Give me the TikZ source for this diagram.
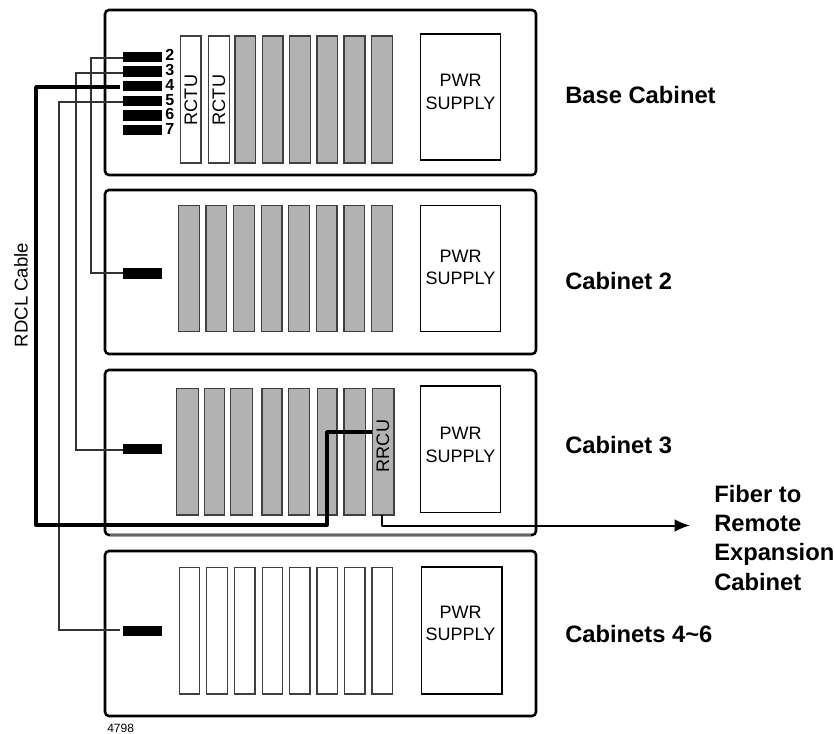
\documentclass[tikz,border=0pt]{standalone}
\usepackage{fontspec}
\setmainfont{Liberation Sans}
\usetikzlibrary{arrows.meta}
\newcommand\bx[6]{%
  \pgfmathsetmacro\cxv{(#3+#4)/2}\pgfmathsetmacro\cyv{(#5+#6)/2}%
  \pgfmathsetmacro\wv{(#4-#3)*0.75}\pgfmathsetmacro\hv{(#6-#5)*0.75}%
  \node[#1,minimum width=\wv pt,minimum height=\hv pt] (#2) at (\cxv,\cyv) {};}
\tikzset{
  x=0.75pt,y=-0.75pt,
  boxbase/.style={rectangle,inner sep=0pt,outer sep=0pt},
  cabinet/.style={boxbase,draw=black,line width=1.9pt,rounded corners=3pt},
  graycard/.style={boxbase,draw=black!75,fill=black!30,line width=1.1pt},
  whitecard/.style={boxbase,draw=black!75,fill=white,line width=1.1pt},
  pwr/.style={boxbase,draw=black,fill=white,line width=0.8pt},
  bar/.style={boxbase,fill=black},
  thinline/.style={draw=black!80,line width=0.9pt},
  thickline/.style={draw=black,line width=2.9pt,line join=round},
  fiber/.style={draw=black,line width=1.5pt,line join=round},
  pwrtext/.style={align=center,font=\fontsize{13.5}{16.8}\selectfont,inner sep=0pt},
  lbl/.style={anchor=base west,inner sep=0pt,font=\fontsize{17.8}{21.75}\selectfont\bfseries},
  num/.style={anchor=base west,inner sep=0pt,font=\fontsize{12}{12}\selectfont\bfseries},
  cardtext/.style={rotate=90,inner sep=0pt,font=\fontsize{13.6}{16}\selectfont},
}
\begin{document}
\begin{tikzpicture}
\useasboundingbox (0,0) rectangle (835,733);
% cabinets
\bx{cabinet}{cabA}{105}{536}{10}{175}
\bx{cabinet}{cabB}{105}{536}{190}{354}
\bx{cabinet}{cabC}{105}{536}{370}{535}
\bx{cabinet}{cabD}{105}{536}{551}{716}
\coordinate (cl) at (110,535);
\coordinate (cr) at (531,535);
\draw[white,line width=2.2pt] (cl) -- (cr);
\draw[black!60,line width=1pt] (cl) -- (cr);
% power supplies
\foreach \n/\a/\b/\c/\d/\ty in {A/420.7/500.7/34/160/92,B/420.7/500.7/205.7/331.7/267.5,C/420.7/500.7/386/512.3/445,D/421.7/502/567/694/623.5}{
  \bx{pwr}{pwr\n}{\a}{\b}{\c}{\d}
  \node[pwrtext] (pwrt\n) at (460.5,\ty) {PWR\\SUPPLY};
}
% base cabinet cards
\bx{whitecard}{a1}{180.3}{201}{36}{163}
\bx{whitecard}{a2}{208.7}{229.7}{36}{163}
\foreach \i/\a/\b in {3/235/255.7,4/262.3/283,5/289.7/310.3,6/317/337.7,7/344/365,8/371.7/392.3}{
  \bx{graycard}{a\i}{\a}{\b}{36}{163}
}
\node[cardtext] (ta1) at (191,100) {RCTU};
\node[cardtext] (ta2) at (219,100) {RCTU};
% cabinet 2 cards
\foreach \i/\a/\b in {1/178.7/199.3,2/206/226.7,3/233.7/254.3,4/261.3/282,5/288.7/309.7,6/316.3/337,7/344/364.7,8/371.7/392.3}{
  \bx{graycard}{b\i}{\a}{\b}{205.7}{331.7}
}
% cabinet 3 cards
\foreach \i/\a/\b in {1/176.7/198.3,2/204.3/224.3,3/230.7/252.7,4/262/282,5/288.7/309.3,6/317.3/337,7/344/365.7,8/372.3/394}{
  \bx{graycard}{c\i}{\a}{\b}{388.3}{515}
}
\node[cardtext] (tc8) at (383,446) {RRCU};
% cabinet 4 cards
\foreach \i/\a/\b in {1/179.7/199.7,2/206.7/227.3,3/234.3/255,4/262.3/282.7,5/289.7/310,6/317/337.7,7/344.7/365,8/372/392.7}{
  \bx{whitecard}{d\i}{\a}{\b}{567.3}{694}
}
% connector bars
\bx{bar}{p2}{122.7}{162.3}{51.7}{62}
\bx{bar}{p3}{122.7}{162.3}{66}{76.7}
\bx{bar}{p4}{122.7}{162.3}{81}{91.3}
\bx{bar}{p5}{122.7}{162.3}{96}{106}
\bx{bar}{p6}{122.7}{162.3}{110.3}{120.7}
\bx{bar}{p7}{122.7}{162.3}{125}{135.3}
\bx{bar}{qB}{122.7}{162.3}{268.3}{279}
\bx{bar}{qC}{122.7}{162.3}{444.3}{453.7}
\bx{bar}{qD}{122.7}{162.3}{625.7}{635.7}
\foreach \n/\y in {2/60,3/75,4/90,5/105,6/119,7/134}{
  \node[num] (n\n) at (165,\y) {\n};
}
% cables
\coordinate (t4) at (120,87);
\coordinate (e5) at (120,630);
\coordinate (f0) at (382,515);
\draw[thinline] (p2.west |- 0,58) -- (91,58) -- (91,273) -- (qB.west |- 0,273);
\draw[thinline] (p3.west |- 0,73) -- (76,73) -- (76,450) -- (qC.west |- 0,450);
\draw[thinline] (p5.west |- 0,102) -- (59,102) -- (59,630) -- (e5);
\draw[thickline] (t4) -- (36,87) -- (36,525) -- (327,525) -- (327,432) -- (c8.west |- 0,432);
\draw[fiber,-{Latex[length=11.5pt,width=9.5pt]}] (f0) -- (382,525.5) -- (690,525.5);
% labels
\node[lbl] (lA) at (565,103) {Base Cabinet};
\node[lbl] (lB) at (565,289) {Cabinet 2};
\node[lbl] (lC) at (565,453) {Cabinet 3};
\node[lbl] (lD) at (565,642) {Cabinets 4\textasciitilde 6};
\node[lbl] (f1) at (714,502) {Fiber to};
\node[lbl] (f2) at (714,531) {Remote};
\node[lbl] (f3) at (714,560) {Expansion};
\node[lbl] (f4) at (714,590) {Cabinet};
\node[rotate=90,inner sep=0pt,font=\fontsize{13.9}{16}\selectfont] (rdcl) at (21,295) {RDCL Cable};
\node[anchor=base west,inner sep=0pt,font=\fontsize{9}{10}\selectfont] (fig) at (107,732) {4798};
\end{tikzpicture}
\end{document}
